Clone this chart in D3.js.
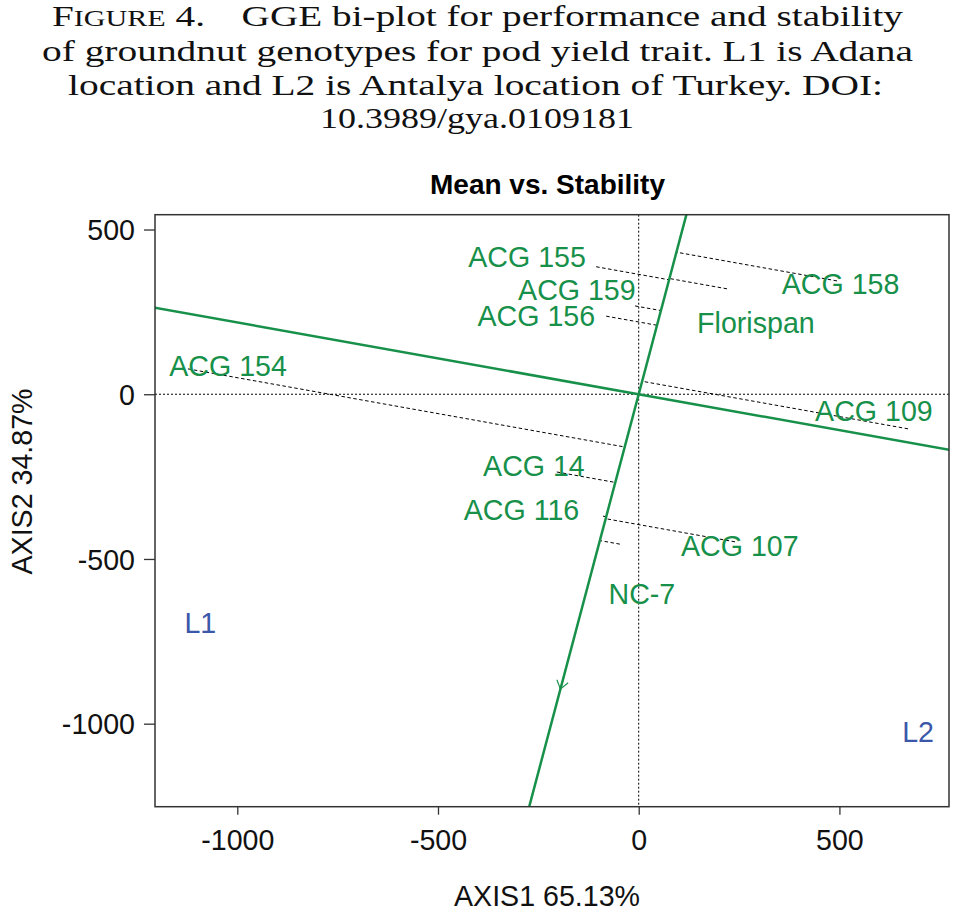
<!DOCTYPE html>
<html>
<head>
<meta charset="utf-8">
<script src="https://cdn.jsdelivr.net/npm/d3@7"></script>
<style>
  body { margin: 0; background: #fff; }
  svg { display: block; }
</style>
</head>
<body>
<svg id="chart" width="955" height="914"></svg>
<script>
// genotype scores (AXIS1, AXIS2) and where their labels sit
const genotypes = ["ACG 158", "ACG 155", "Florispan", "ACG 159", "ACG 156", "ACG 154",
  "ACG 109", "ACG 14", "ACG 116", "ACG 107", "NC-7"];
const genoX = [494, -106, 220, -9, -81, -1123, 671, -204, -89, 240, -47];
const genoY = [344, 387, 320, 268, 237, 77, -105, -236, -370, -448, -455];
const labelX = [503, -278, 292, -154, -255, -1023, 586, -261, -292, 252, 8];
const labelY = [336, 417, 218, 318, 238, 86, -49, -218, -350, -459, -606];

// locations
const locations = ["L1", "L2"];
const locX = [-1092, 696];
const locY = [-694, -1025];

// average environment (arrow tip of the AEA)
const meanEnv = [-195, -895];

const xTicks = [-1000, -500, 0, 500];
const yTicks = [500, 0, -500, -1000];

const captionLines = [
  "of groundnut genotypes for pod yield trait. L1 is Adana",
  "location and L2 is Antalya location of Turkey. DOI:",
  "10.3989/gya.0109181",
];

const GREEN = "#17904a";
const BLUE = "#3b57a9";
const SANS = "'Liberation Sans', Arial, Helvetica, sans-serif";
const SERIF = "'Liberation Serif', 'Times New Roman', serif";

const LEFT = 155, RIGHT = 949, TOP = 214.7, BOTTOM = 806.7;

const svg = d3.select("#chart");

const x = d3.scaleLinear().domain([-1205, 773]).range([LEFT, RIGHT]);
const y = d3.scaleLinear().domain([-1252, 545]).range([BOTTOM, TOP]);

// caption
const cap = svg.append("g").attr("font-family", SERIF).attr("fill", "#111");
const first = cap.append("text")
  .attr("x", 52).attr("y", 26)
  .attr("font-size", 30)
  .attr("textLength", 851)
  .attr("lengthAdjust", "spacingAndGlyphs");
first.append("tspan").text("F");
first.append("tspan").attr("font-size", 23).text("IGURE");
first.append("tspan").text(" 4.");
first.append("tspan").attr("dx", 28).text("GGE bi-plot for performance and stability");

const capPos = [[42, 61, 871], [68, 95, 815], [320, 128, 314]];
captionLines.forEach((line, i) => {
  cap.append("text")
    .attr("x", capPos[i][0]).attr("y", capPos[i][1])
    .attr("font-size", 30)
    .attr("textLength", capPos[i][2])
    .attr("lengthAdjust", "spacingAndGlyphs")
    .text(line);
});

// title
svg.append("text")
  .attr("x", 547.5).attr("y", 194)
  .attr("text-anchor", "middle")
  .attr("font-family", SANS)
  .attr("font-weight", "bold")
  .attr("font-size", 28)
  .text("Mean vs. Stability");

svg.append("clipPath").attr("id", "plotclip")
  .append("rect")
  .attr("x", LEFT).attr("y", TOP)
  .attr("width", RIGHT - LEFT).attr("height", BOTTOM - TOP);

const plot = svg.append("g").attr("clip-path", "url(#plotclip)");

// dotted zero lines
plot.append("line")
  .attr("x1", x(0)).attr("x2", x(0))
  .attr("y1", TOP).attr("y2", BOTTOM)
  .attr("stroke", "#000").attr("stroke-width", 1)
  .attr("stroke-dasharray", "2,2");
plot.append("line")
  .attr("x1", LEFT).attr("x2", RIGHT)
  .attr("y1", y(0)).attr("y2", y(0))
  .attr("stroke", "#000").attr("stroke-width", 1)
  .attr("stroke-dasharray", "2,2");

// projections of genotypes onto the AEA
const len = Math.hypot(meanEnv[0], meanEnv[1]);
const u = [meanEnv[0] / len, meanEnv[1] / len];
genotypes.forEach((g, i) => {
  const d = genoX[i] * u[0] + genoY[i] * u[1];
  plot.append("line")
    .attr("x1", x(genoX[i])).attr("y1", y(genoY[i]))
    .attr("x2", x(d * u[0])).attr("y2", y(d * u[1]))
    .attr("stroke", "#000").attr("stroke-width", 1)
    .attr("stroke-dasharray", "3.5,2.5");
});

// AEA abscissa and ordinate through the origin
const line = d3.line().x((p) => x(p[0])).y((p) => y(p[1]));
const far = 5;
plot.append("path")
  .attr("d", line([[-far * meanEnv[0], -far * meanEnv[1]], [far * meanEnv[0], far * meanEnv[1]]]))
  .attr("stroke", GREEN).attr("stroke-width", 2.5).attr("fill", "none");
plot.append("path")
  .attr("d", line([[-far * -meanEnv[1], -far * meanEnv[0]], [far * -meanEnv[1], far * meanEnv[0]]]))
  .attr("stroke", GREEN).attr("stroke-width", 2.5).attr("fill", "none");

// arrow head at the average environment
const tip = [x(meanEnv[0]), y(meanEnv[1])];
const ang = Math.atan2(tip[1] - y(0), tip[0] - x(0));
[-0.62, 0.62].forEach((a) => {
  plot.append("line")
    .attr("x1", tip[0]).attr("y1", tip[1])
    .attr("x2", tip[0] - 10 * Math.cos(ang + a))
    .attr("y2", tip[1] - 10 * Math.sin(ang + a))
    .attr("stroke", GREEN).attr("stroke-width", 1.2);
});

// genotype labels
plot.selectAll(".geno")
  .data(genotypes)
  .join("text")
  .attr("class", "geno")
  .attr("x", (d, i) => x(labelX[i]))
  .attr("y", (d, i) => y(labelY[i]))
  .attr("dy", "0.36em")
  .attr("text-anchor", "middle")
  .attr("font-family", SANS)
  .attr("font-size", 28.6)
  .attr("fill", GREEN)
  .text((d) => d);

plot.selectAll(".loc")
  .data(locations)
  .join("text")
  .attr("class", "loc")
  .attr("x", (d, i) => x(locX[i]))
  .attr("y", (d, i) => y(locY[i]))
  .attr("dy", "0.36em")
  .attr("text-anchor", "middle")
  .attr("font-family", SANS)
  .attr("font-size", 28.6)
  .attr("fill", BLUE)
  .text((d) => d);

// frame
svg.append("rect")
  .attr("x", LEFT).attr("y", TOP)
  .attr("width", RIGHT - LEFT).attr("height", BOTTOM - TOP)
  .attr("fill", "none").attr("stroke", "#333").attr("stroke-width", 1.5);

// axes (plain hyphen for negatives, as in the original)
const fmt = (d) => String(d);
const xAxis = svg.append("g")
  .attr("transform", `translate(0,${BOTTOM})`)
  .call(d3.axisBottom(x).tickValues(xTicks).tickSize(8).tickPadding(15).tickFormat(fmt));
const yAxis = svg.append("g")
  .attr("transform", `translate(${LEFT},0)`)
  .call(d3.axisLeft(y).tickValues(yTicks).tickSize(11).tickPadding(9).tickFormat(fmt));
[xAxis, yAxis].forEach((ax) => {
  ax.select(".domain").remove();
  ax.selectAll("line").attr("stroke", "#333").attr("stroke-width", 1.3);
  ax.selectAll("text")
    .attr("font-family", SANS)
    .attr("font-size", 28.6)
    .attr("fill", "#111");
});
yAxis.selectAll("text").attr("dy", "0.36em");

// axis titles
svg.append("text")
  .attr("x", 547).attr("y", 906)
  .attr("text-anchor", "middle")
  .attr("font-family", SANS).attr("font-size", 28.6).attr("fill", "#111")
  .text("AXIS1 65.13%");
svg.append("text")
  .attr("transform", "translate(32,481.5) rotate(-90)")
  .attr("text-anchor", "middle")
  .attr("font-family", SANS).attr("font-size", 28.6).attr("fill", "#111")
  .text("AXIS2 34.87%");
</script>
</body>
</html>
